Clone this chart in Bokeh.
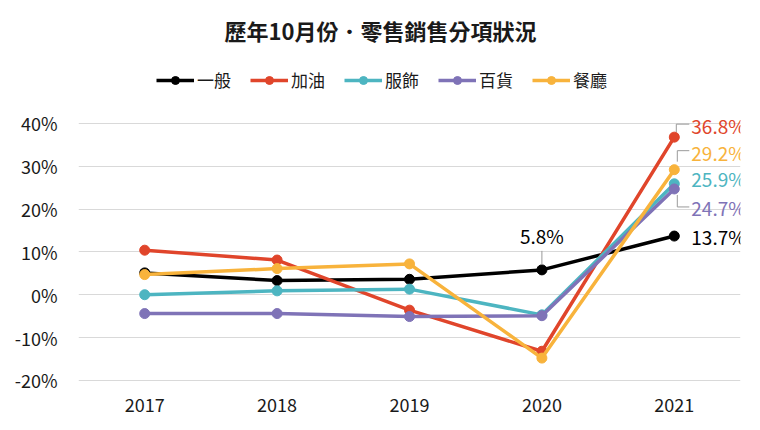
from bokeh.plotting import figure
from bokeh.models import ColumnDataSource, FixedTicker, Legend, LegendItem, Range1d
from bokeh.core.properties import value
from bokeh.embed import file_html
from bokeh.resources import INLINE

# ---------------- data ----------------
years = ["2017", "2018", "2019", "2020", "2021"]
general = [5.1, 3.3, 3.6, 5.8, 13.7]        # 一般
fuel = [10.4, 8.1, -3.6, -13.2, 36.8]        # 加油
apparel = [0.0, 0.9, 1.3, -4.7, 25.9]        # 服飾
department = [-4.4, -4.4, -5.1, -4.9, 24.7]  # 百貨
restaurant = [4.7, 6.1, 7.2, -14.8, 29.2]    # 餐廳
names = ["一般", "加油", "服飾", "百貨", "餐廳"]
yticks = [-20, -10, 0, 10, 20, 30, 40]
ytick_labels = ["-20%", "-10%", "0%", "10%", "20%", "30%", "40%"]
title_text = "歷年10月份．零售銷售分項狀況"

# ---------------- styles ----------------
colors = ["#000000", "#E0452B", "#4DB5C1", "#7F73B7", "#F8B33C"]
FONT = "Noto Sans CJK TC"
FW, FH = 662, 334           # frame size in px
Y0, Y1 = -20.5, 57.5        # top of frame leaves room for the legend
PX_Y = FH / (Y1 - Y0)
PX_X = FW / len(years)

series = [general, fuel, apparel, department, restaurant]
xi = list(range(len(years)))  # category positions on the x axis

p = figure(frame_width=FW, frame_height=FH,
           x_range=Range1d(-0.5, len(years) - 0.5), y_range=Range1d(Y0, Y1),
           output_backend="svg", toolbar_location=None,
           min_border_left=78, min_border_right=12, min_border_top=48, min_border_bottom=40)
p.outline_line_color = None
p.background_fill_color = "white"
p.border_fill_color = "white"

p.title.text = title_text
p.title.text_font = FONT
p.title.text_font_size = "22px"
p.title.text_font_style = "bold"
p.title.text_color = "#1a1a1a"
p.title.align = "left"
p.title.offset = 146
p.title.standoff = 5

p.xgrid.grid_line_color = None
p.ygrid.grid_line_color = "#d9d9d9"
p.ygrid.grid_line_width = 1
p.ygrid.ticker = FixedTicker(ticks=yticks)

p.xaxis.ticker = FixedTicker(ticks=xi)
p.xaxis.major_label_overrides = {i: y for i, y in zip(xi, years)}
p.yaxis.ticker = FixedTicker(ticks=yticks)
p.yaxis.major_label_overrides = {t: s for t, s in zip(yticks, ytick_labels)}
for ax in (p.xaxis[0], p.yaxis[0]):
    ax.axis_line_color = None
    ax.major_tick_line_color = None
    ax.minor_tick_line_color = None
    ax.major_tick_out = 0
    ax.major_tick_in = 0
    ax.major_label_text_font = FONT
    ax.major_label_text_font_size = "18px"
    ax.major_label_text_color = "#1a1a1a"
p.yaxis.major_label_standoff = 21
p.xaxis.major_label_standoff = 15

items = []
for name, vals, c in zip(names, series, colors):
    src = ColumnDataSource(dict(x=xi, y=vals))
    l = p.line("x", "y", source=src, line_color=c, line_width=3.5)
    s = p.scatter("x", "y", source=src, size=10, fill_color=c, line_color=c)
    items.append(LegendItem(label=name, renderers=[l, s]))

legend = Legend(items=items, orientation="horizontal", location=(78, 290),
                label_text_font=FONT, label_text_font_size="17px", label_text_color="#1a1a1a",
                glyph_width=38, glyph_height=20, label_height=20, label_standoff=3,
                spacing=19, padding=0, margin=0,
                border_line_alpha=0, background_fill_alpha=0)
p.add_layout(legend)

# ---------------- data labels ----------------
# (series index, year index, dx px, dy px (down positive), align)
label_specs = [(1, 4, 17, -12, "left"), (4, 4, 17, -17, "left"), (2, 4, 17, -5, "left"),
               (3, 4, 17, 19, "left"), (0, 4, 17, 0, "left"), (0, 3, 0, -34, "center")]
for si, yi, dx, dy, al in label_specs:
    v = series[si][yi]
    p.text(x=[xi[yi]], y=[v], text=[f"{v:.1f}%"], text_color=colors[si],
           x_offset=dx, y_offset=dy, text_align=al, text_baseline="middle",
           text_font=value(FONT), text_font_size="19px")

# leader lines: (series index, year index, path offsets in px, y down positive)
leaders = [(1, 4, [(2, -5), (2, -13), (15, -13)]),
           (4, 4, [(3, -8), (3, -19), (15, -19)]),
           (3, 4, [(3, 6), (3, 18), (15, 18)]),
           (0, 3, [(0, -5), (0, -19)])]
xs, ys = [], []
for si, yi, pts in leaders:
    v = series[si][yi]
    xs.append([xi[yi] + px / PX_X for px, _ in pts])
    ys.append([v - py / PX_Y for _, py in pts])
p.multi_line(xs=xs, ys=ys, line_color="#9a9a9a", line_width=1)

open("out.html", "w").write(file_html(p, INLINE))
